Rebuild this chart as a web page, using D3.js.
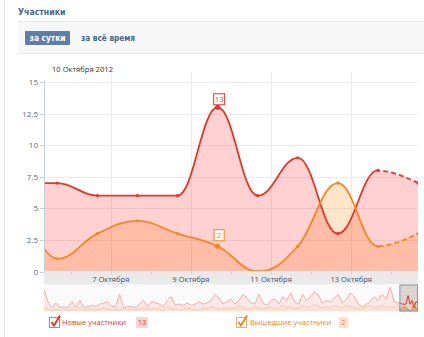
<!DOCTYPE html>
<html><head><meta charset="utf-8">
<script src="https://cdn.jsdelivr.net/npm/d3@7"></script>
<style>
html,body{margin:0;padding:0;background:#fff;}
svg{display:block;}
text{font-family:"Open Sans","DejaVu Sans",sans-serif;}
</style></head><body>
<svg id="c" width="424" height="337"></svg>
<script>
// ---------- data ----------
const days = ["2012-10-05","2012-10-06","2012-10-07","2012-10-08","2012-10-09","2012-10-10","2012-10-11","2012-10-12","2012-10-13","2012-10-14","2012-10-15"];
const newMembers  = [7, 7, 6, 6, 6, 13, 6, 9, 3, 8, 7];
const leftMembers = [6, 1, 3, 4, 3, 2, 0, 2, 7, 2, 3];
const hoverIndex = 5;
const seriesNames = ["Новые участники", "Вышедшие участники"];
const monthGen = ["Января","Февраля","Марта","Апреля","Мая","Июня","Июля","Августа","Сентября","Октября","Ноября","Декабря"];
const yTicks = [0, 2.5, 5, 7.5, 10, 12.5, 15];
const yTickLabels = ["0","2.5","5","7.5","10","12.5","15"];
const xTickDates = ["2012-10-07","2012-10-09","2012-10-11","2012-10-13"];
const xTickLabels = ["7 Октября","9 Октября","11 Октября","13 Октября"];
const tabs = ["за сутки","за всё время"];
const title = "Участники";
// navigator history (every 2 days, ending 3 Oct)
const histNew = [18,8,3,7,3,4,3,8,3,9, 3,4,5,4,6,7,8,4,4,14, 3,4,4,3,6,9,4,8,7,6, 4,9,12,5,6,5,7,5,6,8,
  6,7,9,14,11,6,8,10,6,9, 14,11,7,6,14,7,5,9,10,6, 12,9,15,8,6,14,9,12,16,13, 7,9,8,11,14,7,10,15,12,6, 4,6,8,12,9,14,10,20,8];
const histLeft = [3,2,1,2,1,2,1,2,1,3, 1,2,2,1,2,3,2,1,2,1, 3,1,2,1,2,3,2,2,3,2, 1,4,2,2,1,2,3,2,2,1,
  3,2,4,3,2,2,3,2,3,5, 3,2,2,4,3,2,3,4,2,3, 5,3,4,2,3,5,3,4,6,4, 3,4,3,5,4,3,5,4,3,2, 3,4,5,3,4,5,3,4,3];
const histEnd = "2012-10-03";
const tzShiftHours = -8;

// ---------- helpers ----------
const parse = d3.timeParse("%Y-%m-%d");
const shift = d => d3.timeHour.offset(d, tzShiftHours);
const RED = "#e2382c", ORANGE = "#f2861f";

// Highcharts-style spline through pixel points
function splinePath(P, p) {
  const sm = 1.5, den = 2.5;
  const rc = [];
  p = p || d3.path();
  p.moveTo(P[0][0], P[0][1]);
  for (let i = 1; i < P.length; i++) {
    const [px, py] = P[i];
    let lcx = px, lcy = py;
    if (i < P.length - 1) {
      const [lx, ly] = P[i-1], [nx, ny] = P[i+1];
      lcx = (sm*px + lx)/den; lcy = (sm*py + ly)/den;
      let rcx = (sm*px + nx)/den, rcy = (sm*py + ny)/den;
      let corr = 0;
      if (rcx !== lcx) corr = ((rcy - lcy)*(rcx - px))/(rcx - lcx) + py - rcy;
      lcy += corr; rcy += corr;
      if (lcy > ly && lcy > py) { lcy = Math.max(ly, py); rcy = 2*py - lcy; }
      else if (lcy < ly && lcy < py) { lcy = Math.min(ly, py); rcy = 2*py - lcy; }
      if (rcy > ny && rcy > py) { rcy = Math.max(ny, py); lcy = 2*py - rcy; }
      else if (rcy < ny && rcy < py) { rcy = Math.min(ny, py); lcy = 2*py - rcy; }
      rc[i] = [rcx, rcy];
    }
    const c1 = rc[i-1] || P[i-1];
    p.bezierCurveTo(c1[0], c1[1], lcx, lcy, px, py);
  }
  return p;
}

const svg = d3.select("#c");
const defs = svg.append("defs");
const HF = "'DejaVu Sans Condensed','DejaVu Sans',sans-serif";

// page chrome
svg.append("line").attr("x1",4.5).attr("x2",4.5).attr("y1",0).attr("y2",337).attr("stroke","#e6e6e6");
svg.append("text").attr("x",18).attr("y",15).attr("font-size",8.7).attr("font-weight","bold")
  .attr("fill","#45688e").style("font-family",HF).text(title);
svg.append("rect").attr("x",18).attr("y",21).attr("width",406).attr("height",32).attr("fill","#f7f7f7");
svg.append("line").attr("x1",18).attr("x2",424).attr("y1",21.5).attr("y2",21.5).attr("stroke","#e2e6ea");
svg.append("line").attr("x1",18).attr("x2",424).attr("y1",53.5).attr("y2",53.5).attr("stroke","#ebebeb");
svg.append("rect").attr("x",25).attr("y",31).attr("width",45).attr("height",14).attr("rx",1).attr("fill","#5d7fa5");
svg.append("text").attr("x",47.5).attr("y",41.3).attr("text-anchor","middle").attr("font-size",8.3)
  .attr("font-weight","bold").attr("fill","#fff").style("font-family",HF).text(tabs[0]);
svg.append("text").attr("x",81).attr("y",41.3).attr("font-size",8.2).attr("font-weight","bold")
  .attr("fill","#45688e").style("font-family",HF).text(tabs[1]);

// ---------- main chart ----------
const L = 44, R = 418, T = 82, B = 271.5;
const x = d3.scaleTime().domain([new Date(2012,9,5,8), new Date(2012,9,14,16)]).range([L, R]);
const y = d3.scaleLinear().domain([0, 15]).range([B, T]);

const pts = days.map((d,i) => ({date: parse(d), t: shift(parse(d)), n: newMembers[i], l: leftMembers[i]}));
const PN = pts.map(d => [x(d.t), y(d.n)]);
const PL = pts.map(d => [x(d.t), y(d.l)]);

// grid
svg.selectAll(".hg").data(yTicks).join("line").attr("x1",L).attr("x2",R)
  .attr("y1",d=>Math.round(y(d))+0.5).attr("y2",d=>Math.round(y(d))+0.5).attr("stroke","#ececec");
svg.selectAll(".vg").data(xTickDates).join("line")
  .attr("x1",d=>Math.round(x(parse(d)))+0.5).attr("x2",d=>Math.round(x(parse(d)))+0.5)
  .attr("y1",T-10).attr("y2",B).attr("stroke","#ececec");

defs.append("clipPath").attr("id","pc").append("rect")
  .attr("x",L).attr("y",T-20).attr("width",R-L).attr("height",B-T+20);

function areaPath(P) {
  const p = splinePath(P);
  p.lineTo(P[P.length-1][0], B); p.lineTo(P[0][0], B); p.closePath();
  return p.toString();
}

const plot = svg.append("g").attr("clip-path","url(#pc)");
plot.append("path").attr("d",areaPath(PL)).attr("fill","rgba(255,140,20,0.22)");
plot.append("path").attr("d",areaPath(PN)).attr("fill","rgba(255,0,0,0.18)");

const lastT = PN[PN.length-2][0];
defs.append("clipPath").attr("id","solid").append("rect").attr("x",0).attr("y",0).attr("width",lastT).attr("height",337);
defs.append("clipPath").attr("id","dash").append("rect").attr("x",lastT).attr("y",0).attr("width",424-lastT).attr("height",337);
[[PN,RED],[PL,ORANGE]].forEach(([P,col]) => {
  const d = splinePath(P).toString();
  plot.append("g").attr("clip-path","url(#solid)").append("path").attr("d",d)
    .attr("fill","none").attr("stroke",col).attr("stroke-width",1.8);
  plot.append("g").attr("clip-path","url(#dash)").append("path").attr("d",d)
    .attr("fill","none").attr("stroke",col).attr("stroke-width",1.8).attr("stroke-dasharray","5,3");
});
plot.selectAll(".pn").data(pts).join("circle").attr("cx",d=>x(d.t)).attr("cy",d=>y(d.n))
  .attr("r",(d,i)=>i===hoverIndex?2.6:1.6).attr("fill",RED);
plot.selectAll(".pl").data(pts).join("circle").attr("cx",d=>x(d.t)).attr("cy",d=>y(d.l))
  .attr("r",(d,i)=>i===hoverIndex?2.6:1.6).attr("fill",ORANGE);

// hover labels
const hp = pts[hoverIndex];
function badge(cx, bottom, txt, col){
  const w = txt.length>1?11:10, h = 11;
  svg.append("rect").attr("x",cx-w/2+0.5).attr("y",bottom-h+0.5).attr("width",w).attr("height",h)
    .attr("fill","#fff").attr("stroke",col).attr("stroke-width",1);
  svg.append("text").attr("x",cx+0.5).attr("y",bottom-2.5).attr("text-anchor","middle")
    .attr("font-size",7.5).attr("fill",col).text(txt);
}
badge(x(hp.t)+1, y(hp.n)-3, String(hp.n), RED);
badge(x(hp.t)+1, y(hp.l)-6, String(hp.l), ORANGE);

svg.append("text").attr("x",52).attr("y",71.5).attr("font-size",7.6).attr("fill","#333")
  .text(hp.date.getDate()+" "+monthGen[hp.date.getMonth()]+" "+hp.date.getFullYear());

// y axis
svg.append("line").attr("x1",L+0.5).attr("x2",L+0.5).attr("y1",T-2).attr("y2",B).attr("stroke","#c3cfdc");
svg.selectAll(".yt").data(yTicks).join("line").attr("x1",L-4).attr("x2",L)
  .attr("y1",d=>Math.round(y(d))+0.5).attr("y2",d=>Math.round(y(d))+0.5).attr("stroke","#c3cfdc");
svg.selectAll(".yl").data(yTicks).join("text").attr("x",L-6).attr("y",d=>y(d)+3)
  .attr("text-anchor","end").attr("font-size",8).attr("fill","#5b6b82").text((d,i)=>yTickLabels[i]);

// x band
svg.append("rect").attr("x",L).attr("y",B).attr("width",R-L).attr("height",13).attr("fill","#e9e9e9");
const dayTicks = d3.timeDay.range(new Date(2012,9,6), new Date(2012,9,15));
svg.selectAll(".xt").data(dayTicks).join("line")
  .attr("x1",d=>Math.round(x(d))+0.5).attr("x2",d=>Math.round(x(d))+0.5)
  .attr("y1",B).attr("y2",B+3).attr("stroke","#cfcfcf");
svg.selectAll(".xl").data(xTickDates).join("text").attr("x",d=>x(parse(d))).attr("y",B+10)
  .attr("text-anchor","middle").attr("font-size",7.6).attr("fill","#45556b").text((d,i)=>xTickLabels[i]);

// ---------- navigator ----------
const NT = 284.5, NB = 311.5;
const endHist = parse(histEnd);
const navPts = histNew.map((v,i) => ({t: shift(d3.timeDay.offset(endHist, -2*(histNew.length-1-i))), n: v, l: histLeft[i]}))
  .concat(pts);
const xn = d3.scaleTime().domain([navPts[0].t, x.domain()[1]]).range([L, R]);
const yn = d3.scaleLinear().domain([0, 22]).range([NB, NT]);
svg.append("rect").attr("x",L).attr("y",NT).attr("width",R-L).attr("height",NB-NT).attr("fill","#fafafa");
defs.append("clipPath").attr("id","nc").append("rect").attr("x",L).attr("y",NT).attr("width",R-L).attr("height",NB-NT);
const nav = svg.append("g").attr("clip-path","url(#nc)");
const nAreaN = d3.area().x(d=>xn(d.t)).y0(NB).y1(d=>yn(d.n));
const nAreaL = d3.area().x(d=>xn(d.t)).y0(NB).y1(d=>yn(d.l));
const nLineN = d3.line().x(d=>xn(d.t)).y(d=>yn(d.n));
const nLineL = d3.line().x(d=>xn(d.t)).y(d=>yn(d.l));
nav.append("path").attr("d",nAreaN(navPts)).attr("fill","rgba(255,60,60,0.09)");
nav.append("path").attr("d",nAreaL(navPts)).attr("fill","rgba(255,150,40,0.09)");
nav.append("path").attr("d",nLineN(navPts)).attr("fill","none").attr("stroke","#f5aaa6").attr("stroke-width",1);
nav.append("path").attr("d",nLineL(navPts)).attr("fill","none").attr("stroke","#f9cba0").attr("stroke-width",1);
const wx0 = xn(x.domain()[0]), wx1 = xn(x.domain()[1]);
defs.append("clipPath").attr("id","wc").append("rect").attr("x",wx0).attr("y",NT).attr("width",wx1-wx0).attr("height",NB-NT);
const win = svg.append("g").attr("clip-path","url(#wc)");
win.append("rect").attr("x",wx0).attr("y",NT).attr("width",wx1-wx0).attr("height",NB-NT).attr("fill","#ddd3cf");
win.append("path").attr("d",nAreaL(navPts)).attr("fill","rgba(245,130,40,0.45)");
win.append("path").attr("d",nLineN(navPts)).attr("fill","none").attr("stroke",RED).attr("stroke-width",1);
win.append("path").attr("d",nLineL(navPts)).attr("fill","none").attr("stroke",ORANGE).attr("stroke-width",1);
svg.append("rect").attr("x",wx0+0.5).attr("y",NT+0.5).attr("width",wx1-wx0-1).attr("height",NB-NT-1)
  .attr("fill","none").attr("stroke","#8797b3");

// ---------- legend ----------
function legendItem(bx, col, fillBadge, name, val, tx, badgeX){
  const lg = svg.append("g");
  lg.append("rect").attr("x",bx+0.5).attr("y",317.5).attr("width",10).attr("height",10).attr("fill","#fff").attr("stroke",col).attr("opacity",0.7);
  lg.append("path").attr("d",`M${bx+2.5},${322} L${bx+5},${325.5} L${bx+11},${315.5}`)
    .attr("fill","none").attr("stroke",col).attr("stroke-width",2);
  lg.append("text").attr("x",tx).attr("y",325.3).attr("font-size",7.5).attr("fill",col).text(name);
  const bw = String(val).length>1?12:9;
  lg.append("rect").attr("x",badgeX).attr("y",317).attr("width",bw).attr("height",11).attr("fill",fillBadge);
  lg.append("text").attr("x",badgeX+bw/2).attr("y",325.3).attr("text-anchor","middle").attr("font-size",7.5).attr("fill",col).text(val);
}
legendItem(49, RED, "#ffd2d2", seriesNames[0], hp.n, 62, 136);
legendItem(236, ORANGE, "#ffe2c6", seriesNames[1], hp.l, 250, 339);
</script>
</body></html>
